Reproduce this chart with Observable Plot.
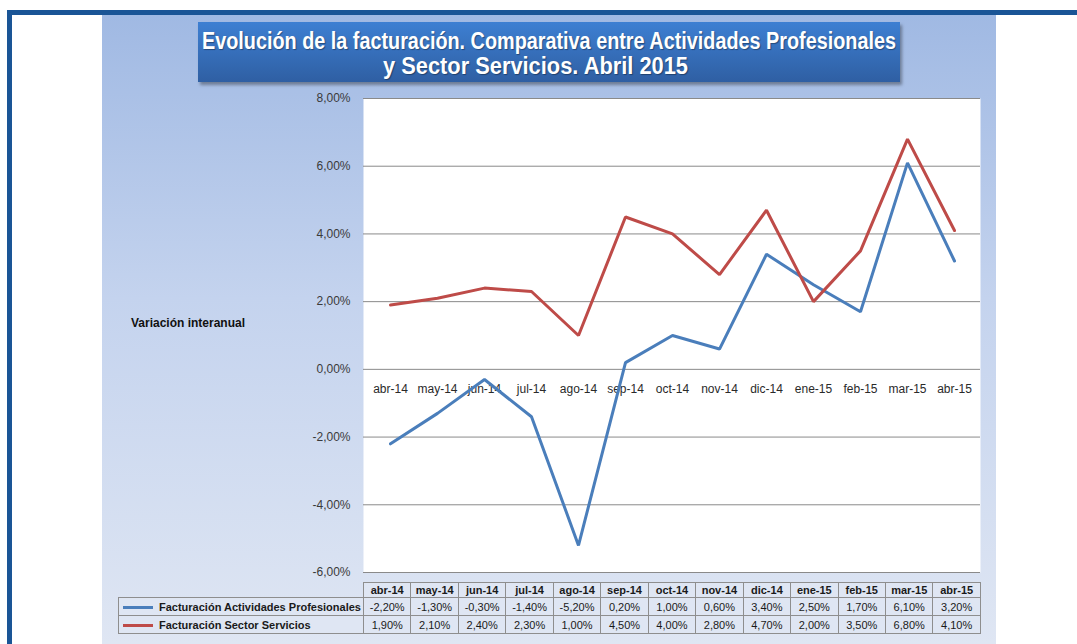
<!DOCTYPE html>
<html>
<head>
<meta charset="utf-8">
<script src="https://cdn.jsdelivr.net/npm/d3@7"></script>
<script src="https://cdn.jsdelivr.net/npm/@observablehq/plot@0.6"></script>
<style>
  body { margin: 0; background: #fff; }
  #root { position: relative; width: 1077px; height: 644px; overflow: hidden; background: #fff; font-family: "Liberation Sans", Arial, sans-serif; }
  .abs { position: absolute; }
  .tl { position: absolute; white-space: nowrap; color: #fff; font-weight: bold; font-size: 23px; line-height: 25px; transform-origin: 0 0; text-shadow: 1px 1px 1px rgba(0,0,0,0.35); }
  #tbl { position: absolute; left: 118px; top: 582px; border-collapse: collapse; table-layout: fixed; font-size: 11px; color: #1a1a1a; }
  #tbl td { border: 1px solid #8e8e8e; text-align: center; padding: 0; background: #dfe6f3; white-space: nowrap; overflow: hidden; }
  #tbl tr.h td { font-weight: bold; height: 14px; }
  #tbl tr.r td { height: 17px; }
  #tbl td.lg { text-align: left; font-weight: bold; padding-left: 4px; }
  .sw { display: inline-block; width: 30px; height: 3px; vertical-align: middle; margin-right: 6px; }
</style>
</head>
<body>
<div id="root">
  <div class="abs" style="left:7px;top:10px;width:1070px;height:5px;background:#1a5596"></div>
  <div class="abs" style="left:7px;top:10px;width:5px;height:634px;background:#1a5596"></div>
  <div class="abs" style="left:102px;top:15px;width:894px;height:629px;background:linear-gradient(#a0b9e3,#c4d3ee 45%,#dfe6f3)"></div>
  <div class="abs" style="left:198px;top:22px;width:702px;height:60px;background:linear-gradient(#3d7fd2,#2f5fa3);box-shadow:2px 3px 3px rgba(0,0,0,0.35)"></div>
  <div id="t1" class="tl" style="left:202px;top:29px"></div>
  <div id="t2" class="tl" style="left:383px;top:54px"></div>
  <div id="chart" class="abs" style="left:0;top:0"></div>
  <div id="ylab" class="abs" style="left:131px;top:316px;font-size:12px;font-weight:bold;color:#111"></div>
  <table id="tbl"></table>
</div>
<script>
const titleLines = ["Evolución de la facturación. Comparativa entre Actividades Profesionales", "y Sector Servicios. Abril 2015"];
const yAxisTitle = "Variación interanual";
const months = ["abr-14","may-14","jun-14","jul-14","ago-14","sep-14","oct-14","nov-14","dic-14","ene-15","feb-15","mar-15","abr-15"];
const profesionales = [-2.2,-1.3,-0.3,-1.4,-5.2,0.2,1.0,0.6,3.4,2.5,1.7,6.1,3.2];
const servicios = [1.9,2.1,2.4,2.3,1.0,4.5,4.0,2.8,4.7,2.0,3.5,6.8,4.1];
const yTicks = [-6,-4,-2,0,2,4,6,8];
const seriesNames = ["Facturación Actividades Profesionales","Facturación Sector Servicios"];
const seriesColors = ["#4a7ebb","#be4b48"];

const fmt = v => v.toFixed(2).replace(".", ",") + "%";

// title lines, condensed to the widths seen in the reference
[["t1", titleLines[0], 694], ["t2", titleLines[1], 305]].forEach(([id, txt, w]) => {
  const el = document.getElementById(id);
  el.textContent = txt;
  const nat = el.getBoundingClientRect().width;
  el.style.transform = `scaleX(${w / nat})`;
});
document.getElementById("ylab").textContent = yAxisTitle;

const data = [];
months.forEach((m, i) => {
  data.push({m, v: profesionales[i], s: seriesNames[0]});
  data.push({m, v: servicios[i], s: seriesNames[1]});
});
const zero = months.map(m => ({m, v: 0}));

const chart = Plot.plot({
  width: 1077, height: 644,
  marginLeft: 363, marginRight: 97, marginTop: 98, marginBottom: 72,
  style: {background: "transparent", fontFamily: "Liberation Sans, Arial, sans-serif", fontSize: "12px", color: "#3a3a3a", overflow: "visible"},
  x: {type: "point", domain: months, padding: 0.5, axis: null},
  y: {domain: [-6, 8], axis: null},
  color: {domain: seriesNames, range: seriesColors},
  marks: [
    Plot.frame({fill: "white", stroke: null}),
    Plot.gridY(yTicks, {stroke: "#8a8a8a", strokeOpacity: 1, strokeWidth: 1}),
    Plot.axisY(yTicks, {tickSize: 0, tickPadding: 13, tickFormat: fmt, fill: "#3a3a3a", fontSize: 12, label: null}),
    Plot.text(zero, {x: "m", y: "v", text: "m", dy: 20, fill: "#2a2a2a", fontSize: 12}),
    Plot.line(data, {x: "m", y: "v", z: "s", stroke: "s", strokeWidth: 3, strokeLinejoin: "miter"})
  ]
});
document.getElementById("chart").appendChild(chart);

// table
const tbl = document.getElementById("tbl");
const colW = 617 / months.length;
let html = `<colgroup><col style="width:245px">${months.map(() => `<col style="width:${colW}px">`).join("")}</colgroup>`;
html += `<tr class="h"><td style="border:none;background:transparent"></td>${months.map(m => `<td>${m}</td>`).join("")}</tr>`;
const rows = [profesionales, servicios];
rows.forEach((vals, k) => {
  const name = k === 0
    ? `<span style="display:inline-block;width:200px;text-align:justify;text-align-last:justify;vertical-align:middle">${seriesNames[k]}</span>`
    : `<span style="vertical-align:middle">${seriesNames[k]}</span>`;
  html += `<tr class="r"><td class="lg"><span class="sw" style="background:${seriesColors[k]}"></span>${name}</td>${vals.map(v => `<td>${fmt(v)}</td>`).join("")}</tr>`;
});
tbl.innerHTML = html;
</script>
</body>
</html>
